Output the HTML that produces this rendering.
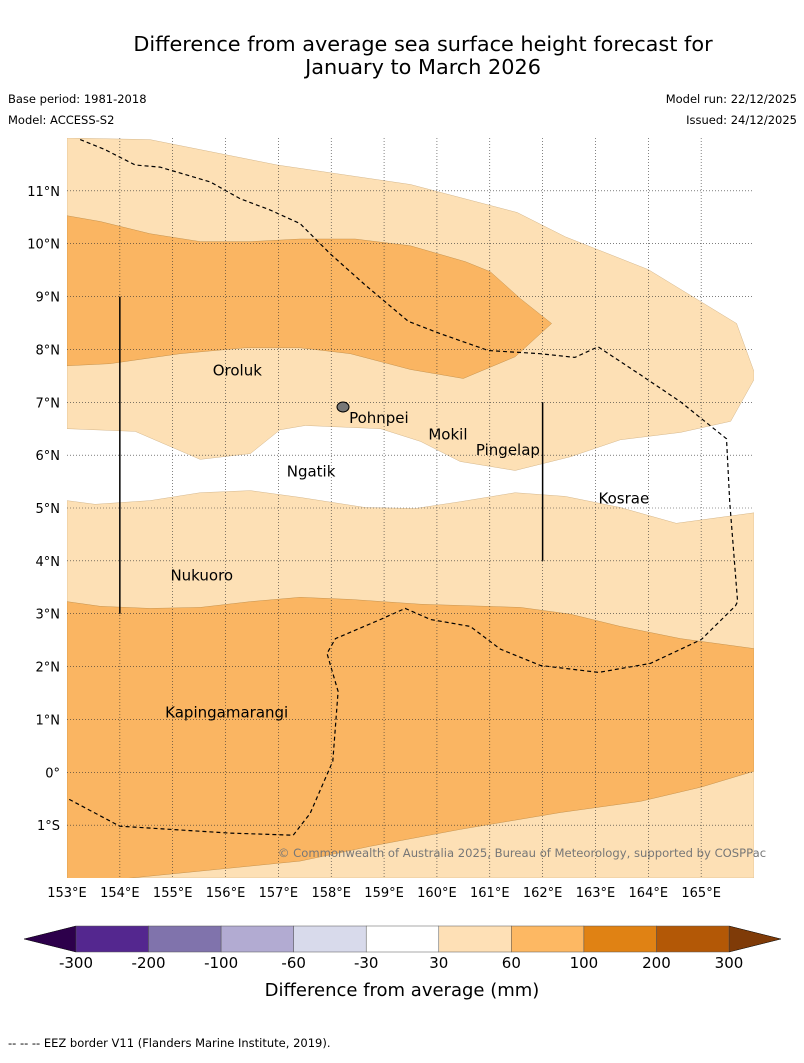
<!DOCTYPE html>
<html><head><meta charset="utf-8"><style>
body{margin:0;background:#fff;font-family:"Liberation Sans",sans-serif;}
svg text{font-family:"DejaVu Sans","Liberation Sans",sans-serif;}
</style></head><body>
<svg id="c" width="804" height="1058" viewBox="0 0 804 1058" xmlns="http://www.w3.org/2000/svg">
<text x="423" y="51" font-size="20.8" text-anchor="middle">Difference from average sea surface height forecast for</text>
<text x="423" y="74" font-size="20.8" text-anchor="middle">January to March 2026</text>
<text x="8" y="103" font-size="11.5">Base period: 1981-2018</text>
<text x="8" y="124" font-size="11.5">Model: ACCESS-S2</text>
<text x="797" y="103" font-size="11.5" text-anchor="end">Model run: 22/12/2025</text>
<text x="797" y="124" font-size="11.5" text-anchor="end">Issued: 24/12/2025</text>
<g id="map"></g>
<text x="522" y="857" font-size="11.6" fill="#777" text-anchor="middle">© Commonwealth of Australia 2025, Bureau of Meteorology, supported by COSPPac</text>
<g id="cb"></g>
<text x="402" y="996" font-size="18" text-anchor="middle">Difference from average (mm)</text>
<text x="8" y="1047" font-size="11.5">-- -- -- EEZ border V11 (Flanders Marine Institute, 2019).</text>
</svg>
<script>
const lonTicks=[153,154,155,156,157,158,159,160,161,162,163,164,165];
const latTicks=[-1,0,1,2,3,4,5,6,7,8,9,10,11];
const lightTop=[[153,12],[154.57,11.97],[156.98,11.49],[159.5,11.12],[161.52,10.59],[162.43,10.13],[164.0,9.51],[165.67,8.49],[166,7.58],[166,7.43],[165.56,6.64],[164.61,6.43],[163.47,6.29],[162.53,5.97],[161.48,5.71],[160.44,5.88],[159.69,6.26],[158.93,6.5],[157.51,6.56],[157.03,6.48],[156.47,6.03],[155.52,5.92],[154.29,6.45],[153,6.5]];
const midTop=[[153,10.53],[153.63,10.42],[154.57,10.19],[155.52,10.04],[156.47,10.04],[157.41,10.09],[158.45,10.09],[159.5,9.96],[160.54,9.66],[161.01,9.47],[161.58,8.96],[162.17,8.49],[161.48,7.86],[160.5,7.45],[159.5,7.62],[158.36,7.92],[157.41,8.03],[156.37,8.03],[155.14,7.92],[153.81,7.73],[153,7.69]];
const lightBottom=[[153,5.14],[153.53,5.07],[154.57,5.14],[155.52,5.29],[156.47,5.33],[157.41,5.2],[158.64,5.01],[159.59,4.99],[160.44,5.12],[161.48,5.29],[162.43,5.22],[163.47,5.01],[164.53,4.71],[166,4.91],[166,-2],[153,-2]];
const midBottom=[[153,3.23],[153.63,3.14],[154.57,3.1],[155.52,3.12],[156.47,3.23],[157.41,3.31],[158.36,3.27],[159.69,3.18],[161.58,3.12],[162.53,2.99],[163.47,2.76],[164.61,2.53],[165.56,2.4],[166,2.34],[166,0.02],[165,-0.28],[163.85,-0.55],[162.34,-0.76],[160.44,-1.08],[158.74,-1.4],[157.41,-1.68],[155.52,-1.87],[154,-2.02],[153,-2.02]];
const eez=[[153.25,11.97],[153.72,11.78],[154.29,11.49],[154.76,11.45],[155.71,11.17],[156.28,10.85],[156.84,10.64],[157.41,10.38],[157.98,9.81],[158.64,9.22],[159.46,8.53],[160.06,8.3],[160.97,7.98],[161.95,7.92],[162.61,7.85],[163.05,8.05],[163.85,7.52],[164.61,7.01],[165.48,6.31],[165.54,5.12],[165.69,3.23],[165.65,3.15],[165,2.51],[164.04,2.06],[163.06,1.89],[161.96,2.02],[161.2,2.33],[160.63,2.76],[159.88,2.89],[159.4,3.1],[158.93,2.89],[158.08,2.53],[157.92,2.25],[158.13,1.53],[158.03,0.21],[157.6,-0.78],[157.28,-1.19],[156.09,-1.15],[154.0,-1.02],[153,-0.49]];
const islands=["Oroluk","Pohnpei","Mokil","Pingelap","Ngatik","Kosrae","Nukuoro","Kapingamarangi"];
const islandLon=[155.72,158.3,159.8,160.7,157.12,163.02,154.92,154.82];
const islandLat=[7.6,6.70,6.39,6.10,5.69,5.18,3.72,1.13];
const cbColors=["#54278f","#8073ac","#b2abd2","#d8daeb","#ffffff","#fee0b6","#fdb863","#e08214","#b35806"];
const cbLabels=["-300","-200","-100","-60","-30","30","60","100","200","300"];
const NS="http://www.w3.org/2000/svg";
const X0=67,X1=754,Y0=138,Y1=878;
const sx=l=>X0+(l-153)/13*(X1-X0);
const sy=l=>Y1-(l+2)/14*(Y1-Y0);
function mk(t,a,p){const e=document.createElementNS(NS,t);for(const k in a)e.setAttribute(k,a[k]);p.appendChild(e);return e;}
const map=document.getElementById('map');
const pts=a=>a.map(p=>sx(p[0]).toFixed(1)+','+sy(p[1]).toFixed(1)).join(' ');
let e;
e=mk('clipPath',{id:'clp'},map);mk('rect',{x:X0,y:Y0,width:X1-X0,height:Y1-Y0},e);
const g=mk('g',{'clip-path':'url(#clp)'},map);
e=mk('polygon',{points:pts(lightTop),fill:'#fde0b5',stroke:'#c9a878','stroke-width':0.4},g);


e=mk('polygon',{points:pts(midTop),fill:'#fab562',stroke:'#b88540','stroke-width':0.4},g);


e=mk('polygon',{points:pts(lightBottom),fill:'#fde0b5',stroke:'#c9a878','stroke-width':0.4},g);


e=mk('polygon',{points:pts(midBottom),fill:'#fab562',stroke:'#b88540','stroke-width':0.4},g);


lonTicks.forEach(l=>{
 if(l>153){e=mk('line',{x1:sx(l),x2:sx(l),y1:Y0,y2:Y1,stroke:'#333','stroke-width':0.6,'stroke-dasharray':'1,2'},map);
 
 }
 e=mk('text',{x:sx(l),y:897,'font-size':13,'text-anchor':'middle'},map);e.textContent=l+'°E';
 
 
});
latTicks.forEach(l=>{
 e=mk('line',{x1:X0,x2:X1,y1:sy(l),y2:sy(l),stroke:'#333','stroke-width':0.6,'stroke-dasharray':'1,2'},map);
 
 
 e=mk('text',{x:60,y:sy(l)+5,'font-size':13,'text-anchor':'end'},map);e.textContent=l<0?(-l)+'°S':(l==0?'0°':l+'°N');
 
 
});
e=mk('polyline',{points:pts(eez),fill:'none',stroke:'#000','stroke-width':1.2,'stroke-dasharray':'4,3'},g);


e=mk('line',{x1:sx(154),x2:sx(154),y1:sy(9),y2:sy(3),stroke:'#000','stroke-width':1.5},map);


e=mk('line',{x1:sx(162),x2:sx(162),y1:sy(7),y2:sy(4),stroke:'#000','stroke-width':1.5},map);


e=mk('ellipse',{cx:343,cy:407,rx:6,ry:5,fill:'#777',stroke:'#000','stroke-width':1},map);


islands.forEach((n,i)=>{
 e=mk('text',{x:sx(islandLon[i])+2,y:sy(islandLat[i])+5,'font-size':15},map);e.textContent=n;
 
 
});
const cb=document.getElementById('cb');
const CX0=76,CX1=729,CY=926,CH=26,w=(CX1-CX0)/cbColors.length;
e=mk('polygon',{points:`${CX0},${CY} ${CX0},${CY+CH} 24,${CY+CH/2}`,fill:'#2d004b',stroke:'#000','stroke-width':0.5},cb);


e=mk('polygon',{points:`${CX1},${CY} ${CX1},${CY+CH} 781,${CY+CH/2}`,fill:'#7f3b08',stroke:'#000','stroke-width':0.5},cb);


cbColors.forEach((c,i)=>{
 e=mk('rect',{x:CX0+i*w,y:CY,width:w,height:CH,fill:c,stroke:'#555','stroke-width':0.5},cb);
 
 
});
cbLabels.forEach((t,i)=>{
 e=mk('text',{x:CX0+i*w,y:968,'font-size':15,'text-anchor':'middle'},cb);e.textContent=t;
 
 
});
</script>
</body></html>
